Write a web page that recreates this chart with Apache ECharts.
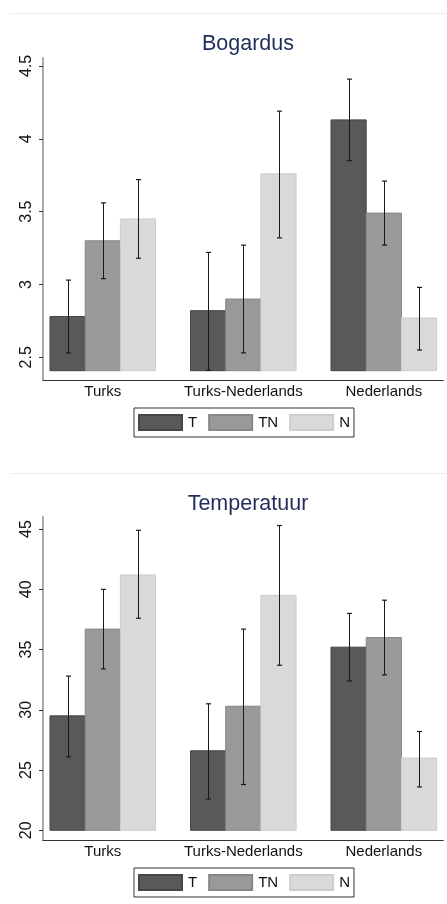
<!DOCTYPE html>
<html>
<head>
<meta charset="utf-8">
<script src="https://cdn.jsdelivr.net/npm/echarts@6/dist/echarts.min.js"></script>
<style>
html,body{margin:0;padding:0;background:#fff;}
#c{width:447px;height:904px;}
</style>
</head>
<body>
<div id="c"></div>
<script>
const categories = ['Turks', 'Turks-Nederlands', 'Nederlands'];
const groupNames = ['T', 'TN', 'N'];

const bogT = [2.78, 2.82, 4.13];
const bogTLow = [2.53, 2.41, 3.85];
const bogTHigh = [3.03, 3.22, 4.41];
const bogTN = [3.30, 2.90, 3.49];
const bogTNLow = [3.04, 2.53, 3.27];
const bogTNHigh = [3.56, 3.27, 3.71];
const bogN = [3.45, 3.76, 2.77];
const bogNLow = [3.18, 3.32, 2.55];
const bogNHigh = [3.72, 4.19, 2.98];
const bogTicks = [2.5, 3, 3.5, 4, 4.5];

const tempT = [29.5, 26.6, 35.2];
const tempTLow = [26.1, 22.6, 32.4];
const tempTHigh = [32.8, 30.5, 38.0];
const tempTN = [36.7, 30.3, 36.0];
const tempTNLow = [33.4, 23.8, 32.9];
const tempTNHigh = [40.0, 36.7, 39.1];
const tempN = [41.2, 39.5, 26.0];
const tempNLow = [37.6, 33.7, 23.6];
const tempNHigh = [44.9, 45.3, 28.2];
const tempTicks = [20, 25, 30, 35, 40, 45];

const FONT = '"Liberation Sans", Arial, sans-serif';
const fills = ['#595959', '#999999', '#d9d9d9'];
const strokes = ['#464646', '#878787', '#cdcdcd'];

function rows(mean, low, high) {
  return mean.map((v, i) => [i, v, low[i], high[i]]);
}

function makeRender(k, base) {
  return function (params, api) {
    const i = api.value(0);
    const unit = api.size([1, 0])[0];
    const bw = unit * 0.2505;
    const top = api.coord([i, api.value(1)]);
    const cx = top[0] + (k - 1) * bw;
    const b = api.coord([i, base]);
    const lo = api.coord([i, api.value(2)]);
    const hi = api.coord([i, api.value(3)]);
    const ex = Math.round(cx) + 0.5;
    return {
      type: 'group',
      children: [
        { type: 'rect', shape: { x: cx - bw / 2, y: top[1], width: bw, height: b[1] - top[1] },
          style: { fill: fills[k], stroke: strokes[k], lineWidth: 1 } },
        { type: 'line', shape: { x1: ex, y1: hi[1], x2: ex, y2: lo[1] },
          style: { stroke: '#1a1a1a', lineWidth: 1 } },
        { type: 'line', shape: { x1: ex - 2.5, y1: hi[1], x2: ex + 2.5, y2: hi[1] },
          style: { stroke: '#1a1a1a', lineWidth: 1.2 } },
        { type: 'line', shape: { x1: ex - 2.5, y1: lo[1], x2: ex + 2.5, y2: lo[1] },
          style: { stroke: '#1a1a1a', lineWidth: 1.2 } }
      ]
    };
  };
}

function xAxisFor(gi) {
  return {
    type: 'value', gridIndex: gi, min: -0.4256, max: 2.4234,
    splitLine: { show: false },
    axisLine: { show: true, onZero: false, lineStyle: { color: '#333', width: 1 } },
    axisTick: { show: false },
    axisLabel: {
      customValues: [0, 1, 2], margin: 4,
      formatter: v => categories[Math.round(v)],
      color: '#111', fontSize: 15, fontFamily: FONT
    }
  };
}
function yAxisFor(gi, min, max, ticks) {
  return {
    type: 'value', gridIndex: gi, min: min, max: max,
    splitLine: { show: false },
    axisLine: { show: true, onZero: false, lineStyle: { color: '#8c8c8c', width: 1.5 } },
    axisTick: { show: true, customValues: ticks, length: 4, lineStyle: { color: '#333' } },
    axisLabel: {
      customValues: ticks, rotate: 90, margin: 8,
      color: '#111', fontSize: 16, fontFamily: FONT
    }
  };
}
function legendFor(top) {
  return {
    data: groupNames, top: top, left: 134, orient: 'horizontal',
    icon: 'rect', itemWidth: 43, itemHeight: 15, itemGap: 11,
    borderColor: '#333', borderWidth: 1, borderRadius: 0,
    padding: [6, 4, 6, 4],
    textStyle: { color: '#111', fontSize: 15, fontFamily: FONT, padding: [0, 0, 0, 1] }
  };
}

const meanSets = [[bogT, bogTN, bogN], [tempT, tempTN, tempN]];
const lowSets = [[bogTLow, bogTNLow, bogNLow], [tempTLow, tempTNLow, tempNLow]];
const highSets = [[bogTHigh, bogTNHigh, bogNHigh], [tempTHigh, tempTNHigh, tempNHigh]];
const bases = [2.408, 20];

const series = [];
for (let g = 0; g < 2; g++) {
  for (let k = 0; k < 3; k++) {
    series.push({
      name: groupNames[k], type: 'custom',
      xAxisIndex: g, yAxisIndex: g,
      itemStyle: { color: fills[k], borderColor: strokes[k], borderWidth: 1 },
      renderItem: makeRender(k, bases[g]),
      encode: { x: 0, y: 1 },
      data: rows(meanSets[g][k], lowSets[g][k], highSets[g][k])
    });
  }
}

const chart = echarts.init(document.getElementById('c'), null, { renderer: 'canvas' });
chart.setOption({
  animation: false,
  backgroundColor: '#fff',
  title: [
    { text: 'Bogardus', left: 243, top: 28, textAlign: 'center',
      textStyle: { color: '#1f2d5a', fontSize: 21.5, fontWeight: 'normal', fontFamily: FONT } },
    { text: 'Temperatuur', left: 243, top: 488, textAlign: 'center',
      textStyle: { color: '#1f2d5a', fontSize: 21.5, fontWeight: 'normal', fontFamily: FONT } }
  ],
  legend: [legendFor(408), legendFor(868)],
  grid: [
    { left: 43, right: 3.7, top: 57.7, bottom: 904 - 380.3 },
    { left: 43, right: 3.7, top: 516.7, bottom: 904 - 840.3 }
  ],
  xAxis: [xAxisFor(0), xAxisFor(1)],
  yAxis: [yAxisFor(0, 2.342, 4.557, bogTicks), yAxisFor(1, 19.17, 46.03, tempTicks)],
  graphic: [
    { type: 'line', shape: { x1: 10, y1: 13.5, x2: 447, y2: 13.5 }, style: { stroke: '#ececec', lineWidth: 1 } },
    { type: 'line', shape: { x1: 10, y1: 473.5, x2: 447, y2: 473.5 }, style: { stroke: '#ececec', lineWidth: 1 } }
  ],
  series: series
});
</script>
</body>
</html>
